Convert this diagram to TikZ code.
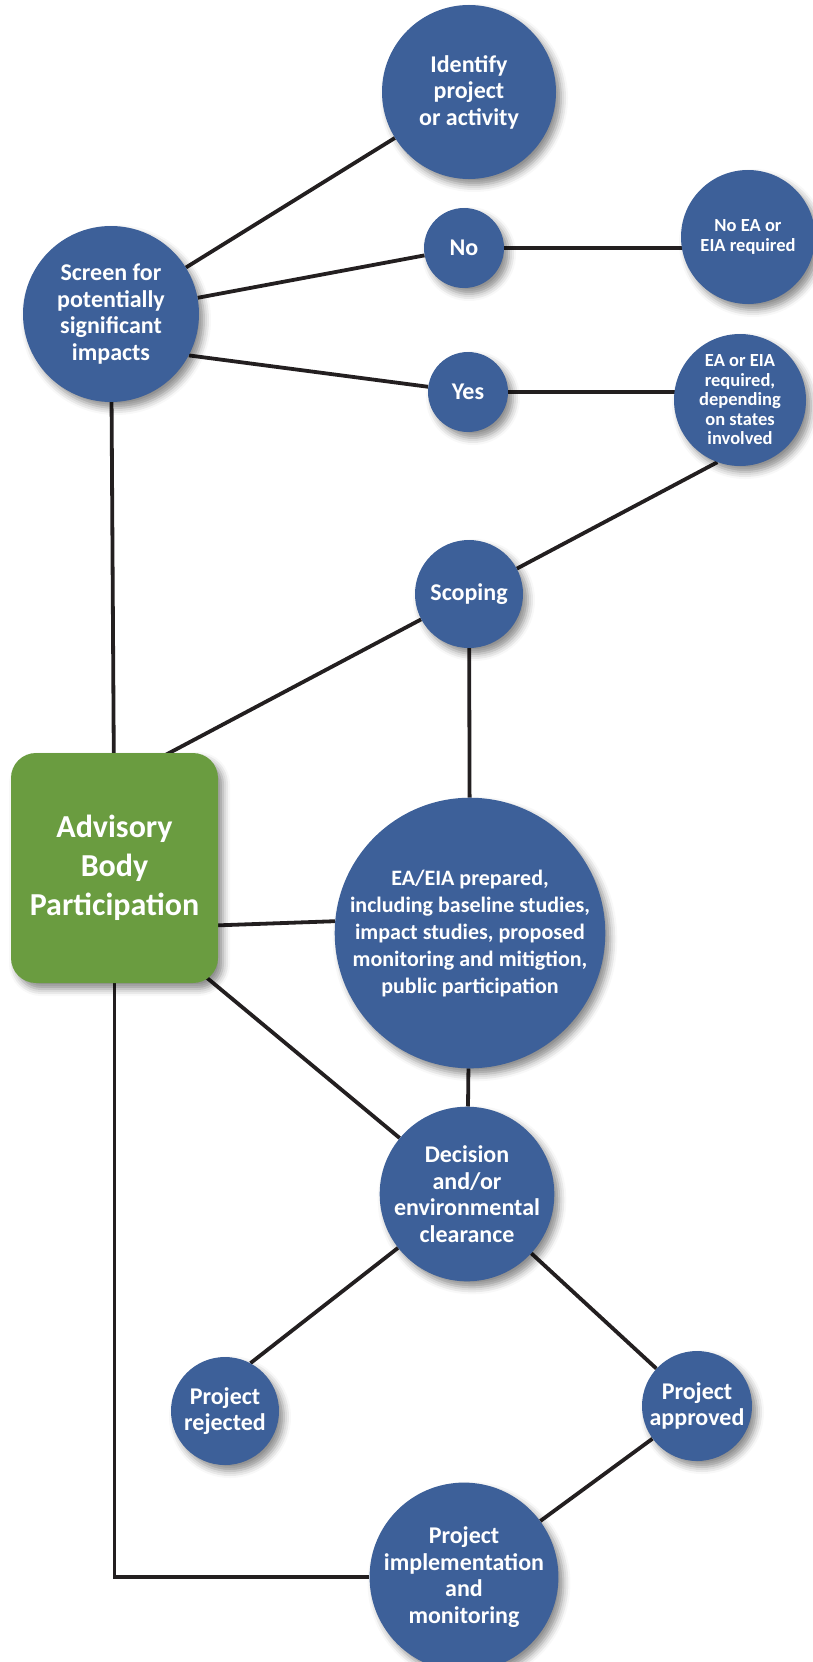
\documentclass[tikz,border=0pt]{standalone}
\usepackage{fontspec}
\setmainfont{Carlito}
\usetikzlibrary{calc,backgrounds,shadows.blur}

\definecolor{stageblue}{RGB}{61,96,153}
\definecolor{bodygreen}{RGB}{106,156,64}
\definecolor{linkblack}{RGB}{35,31,32}

\tikzstyle{stage} = [circle, fill=stageblue, text=white, inner sep=0pt, align=center,
    font=\bfseries\fontsize{24}{26.5}\selectfont,
    blur shadow={shadow xshift=5pt, shadow yshift=-6pt, shadow blur radius=7pt, shadow opacity=45}]
\tikzstyle{smallstage} = [stage, font=\bfseries\fontsize{18.5}{19.5}\selectfont]
\tikzstyle{body} = [rectangle, rounded corners=25pt, fill=bodygreen, text=white, align=center,
    font=\bfseries\fontsize{32}{39}\selectfont,
    blur shadow={shadow xshift=5pt, shadow yshift=-6pt, shadow blur radius=7pt, shadow opacity=45}]
\tikzstyle{link} = [draw=linkblack, line width=3.8pt]

\begin{document}
\begin{tikzpicture}[x=1pt, y=-1pt]
    \useasboundingbox (0,0) rectangle (812,1662);

    \node [stage, minimum size=174pt] (identify) at (469,92) {Identify\\project\\or activity};
    \node [stage, minimum size=176pt] (screen) at (111,314) {Screen for\\potentially\\significant\\impacts};
    \node [stage, minimum size=80pt] (no) at (464,248) {No};
    \node [smallstage, minimum size=134pt] (noea) at (748,237) {No EA or\\EIA required};
    \node [stage, minimum size=80pt] (yes) at (468,392) {Yes};
    \node [smallstage, minimum size=132pt] (eareq) at (740,400) {EA or EIA\\required,\\depending\\on states\\involved};
    \node [stage, minimum size=108pt] (scoping) at (469,594) {Scoping};
    \node [body, minimum width=207pt, minimum height=230pt] (advisory) at (114.5,868) {Advisory\\Body\\Participation};
    \node [stage, minimum size=268pt, font=\bfseries\fontsize{22}{27}\selectfont] (eaprep) at (470,933)
        {EA/EIA prepared,\\including baseline studies,\\impact studies, proposed\\monitoring and mitigtion,\\public participation};
    \node [stage, minimum size=174pt] (decision) at (467,1194) {Decision\\and/or\\environmental\\clearance};
    \node [stage, minimum size=108pt] (rejected) at (225,1411) {Project\\rejected};
    \node [stage, minimum size=110pt] (approved) at (697,1406) {Project\\approved};
    \node [stage, minimum size=176pt] (impl) at (464,1577) {Project\\implementation\\and\\monitoring};

    \begin{scope}[on background layer]
        \draw [link] (screen) -- (identify);
        \draw [link] (screen) -- (no);
        \draw [link] (screen.-28) -- (yes);
        \draw [link] (no) -- (no -| noea);
        \draw [link] (yes) -- (yes -| eareq);
        \draw [link] (eareq.250) -- (scoping);
        \draw [link] (screen) -- (advisory);
        \draw [link] (scoping) -- ($(advisory.center)+(0,-86)$);
        \draw [link] (scoping) -- (eaprep);
        \draw [link] ($(advisory.center)+(0,61)$) -- (eaprep.175);
        \draw [link] ($(advisory.center)+(0,33)$) -- (decision);
        \draw [link] (eaprep) -- (decision);
        \draw [link] (decision) -- (rejected.62);
        \draw [link] (decision) -- (approved);
        \draw [link] (approved) -- (impl);
        \draw [link] (advisory) |- (impl);
    \end{scope}
\end{tikzpicture}
\end{document}
